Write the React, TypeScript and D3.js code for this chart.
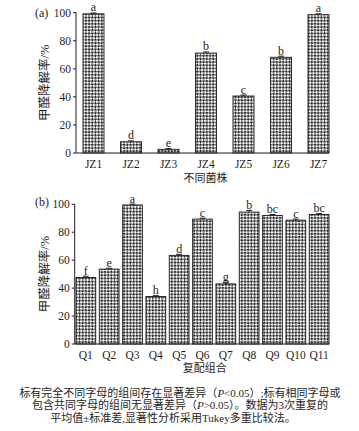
import React from 'react';
import * as d3 from 'd3';

// (a) single strains
const strainNames = ['JZ1', 'JZ2', 'JZ3', 'JZ4', 'JZ5', 'JZ6', 'JZ7'];
const strainRates = [99.2, 8.0, 2.6, 71.2, 40.6, 68.2, 98.6];
const strainErrors = [0.6, 0.6, 0.5, 0.8, 0.7, 0.8, 0.6];
const strainLetters = ['a', 'd', 'e', 'b', 'c', 'b', 'a'];

// (b) combinations
const comboNames = ['Q1', 'Q2', 'Q3', 'Q4', 'Q5', 'Q6', 'Q7', 'Q8', 'Q9', 'Q10', 'Q11'];
const comboRates = [47.6, 53.6, 99.5, 34.0, 63.4, 89.4, 43.0, 94.4, 92.0, 88.6, 92.7];
const comboErrors = [0.9, 0.6, 0.6, 0.6, 0.8, 0.7, 1.2, 1.2, 0.7, 0.8, 0.6];
const comboLetters = ['f', 'e', 'a', 'h', 'd', 'c', 'g', 'b', 'bc', 'c', 'bc'];

const yTicks = [0, 20, 40, 60, 80, 100];

// footnote, split so that the P can be set in italics
const noteLines = [
  ['标有完全不同字母的组间存在显著差异（', 'P', '<0.05）;标有相同字母或'],
  ['包含共同字母的组间无显著差异（', 'P', '>0.05）。数据为3次重复的'],
  ['平均值±标准差,显著性分析采用Tukey多重比较法。', '', ''],
];

const SERIF = '"Liberation Serif", "Times New Roman", "Noto Sans CJK SC", serif';
const CJK = '"Noto Sans CJK SC", sans-serif';
const INK = '#1e1e1e';

interface PanelProps {
  tag: string;
  names: string[];
  values: number[];
  errors: number[];
  letters: string[];
  axisX: number;
  barStart: number;
  right: number;
  yTop: number;
  yBase: number;
  paddingInner: number;
  tagY: number;
  tickY: number;
  title: string;
  titleY: number;
}

const BarPanel: React.FC<PanelProps> = (p) => {
  const y = d3.scaleLinear().domain([0, 100]).range([p.yBase, p.yTop]);
  const x = d3.scaleBand<string>()
    .domain(p.names)
    .range([p.barStart, p.right])
    .paddingInner(p.paddingInner)
    .paddingOuter(0)
    .align(1);
  const bw = x.bandwidth();
  const midX = (p.axisX + p.right) / 2;

  return (
    <g>
      <text x={35} y={p.tagY} fontFamily={SERIF} fontSize={12} fill={INK}>{p.tag}</text>

      {/* y axis */}
      <line x1={p.axisX} x2={p.axisX} y1={p.yBase} y2={p.yTop} stroke={INK} strokeWidth={1} />
      {yTicks.map((t) => (
        <g key={t}>
          <line x1={p.axisX - 3} x2={p.axisX} y1={y(t)} y2={y(t)} stroke={INK} strokeWidth={1} />
          <text x={p.axisX - 5} y={y(t)} dy="0.35em" textAnchor="end"
            fontFamily={SERIF} fontSize={11.5} fill={INK}>{t}</text>
        </g>
      ))}
      <text transform={`translate(49,${(p.yTop + p.yBase) / 2}) rotate(-90)`} textAnchor="middle"
        fontFamily={SERIF} fontSize={12.5} fill={INK}>
        <tspan fontFamily={CJK}>甲醛降解率</tspan>/%
      </text>

      {/* bars */}
      {p.names.map((n, i) => {
        const bx = x(n) || 0;
        const top = y(p.values[i]);
        const cx = bx + bw / 2;
        const et = y(p.values[i] + p.errors[i]);
        return (
          <g key={n}>
            <rect x={bx} y={top} width={bw} height={p.yBase - top}
              fill="url(#hatch)" stroke="#2a2a2a" strokeWidth={1} />
            <line x1={cx} x2={cx} y1={top} y2={et} stroke={INK} strokeWidth={1} />
            <line x1={cx - 3} x2={cx + 3} y1={et} y2={et} stroke={INK} strokeWidth={1} />
            <text x={cx} y={et - 1.5} textAnchor="middle" fontFamily={SERIF} fontSize={12} fill={INK}>
              {p.letters[i]}
            </text>
            <text x={cx} y={p.tickY} textAnchor="middle" fontFamily={SERIF} fontSize={11.5} fill={INK}>{n}</text>
          </g>
        );
      })}

      {/* x axis */}
      <line x1={p.axisX} x2={p.right} y1={p.yBase} y2={p.yBase} stroke={INK} strokeWidth={1} />
      <text x={midX + 3} y={p.titleY} textAnchor="middle" fontFamily={CJK} fontSize={11} fill={INK}>{p.title}</text>
    </g>
  );
};

export default function App() {
  return (
    <svg width={359} height={431} style={{ position: 'absolute', left: 0, top: 0, background: '#fff' }}>
      <defs>
        <pattern id="hatch" width={4.5} height={4.5} patternUnits="userSpaceOnUse" patternTransform="rotate(45)">
          <rect width={4.5} height={4.5} fill="#ffffff" />
          <rect width={2.25} height={2.25} fill="#2b2b2b" />
          <rect x={2.25} y={2.25} width={2.25} height={2.25} fill="#2b2b2b" />
        </pattern>
      </defs>

      <BarPanel tag="(a)" names={strainNames} values={strainRates} errors={strainErrors} letters={strainLetters}
        axisX={76} barStart={83} right={329} yTop={12.7} yBase={153} paddingInner={0.44}
        tagY={16.5} tickY={167.5} title="不同菌株" titleY={182} />

      <BarPanel tag="(b)" names={comboNames} values={comboRates} errors={comboErrors} letters={comboLetters}
        axisX={74.7} barStart={76} right={329} yTop={204.3} yBase={344} paddingInner={0.155}
        tagY={206} tickY={358.5} title="复配组合" titleY={372} />

      {noteLines.map((parts, i) => (
        <text key={i} x={i === 2 ? 173 : 180} y={397 + i * 12.3} textAnchor="middle"
          fontFamily={SERIF} fontSize={11} fill={INK}>
          {parts[0]}
          {parts[1] && <tspan fontStyle="italic">{parts[1]}</tspan>}
          {parts[2]}
        </text>
      ))}
    </svg>
  );
}
